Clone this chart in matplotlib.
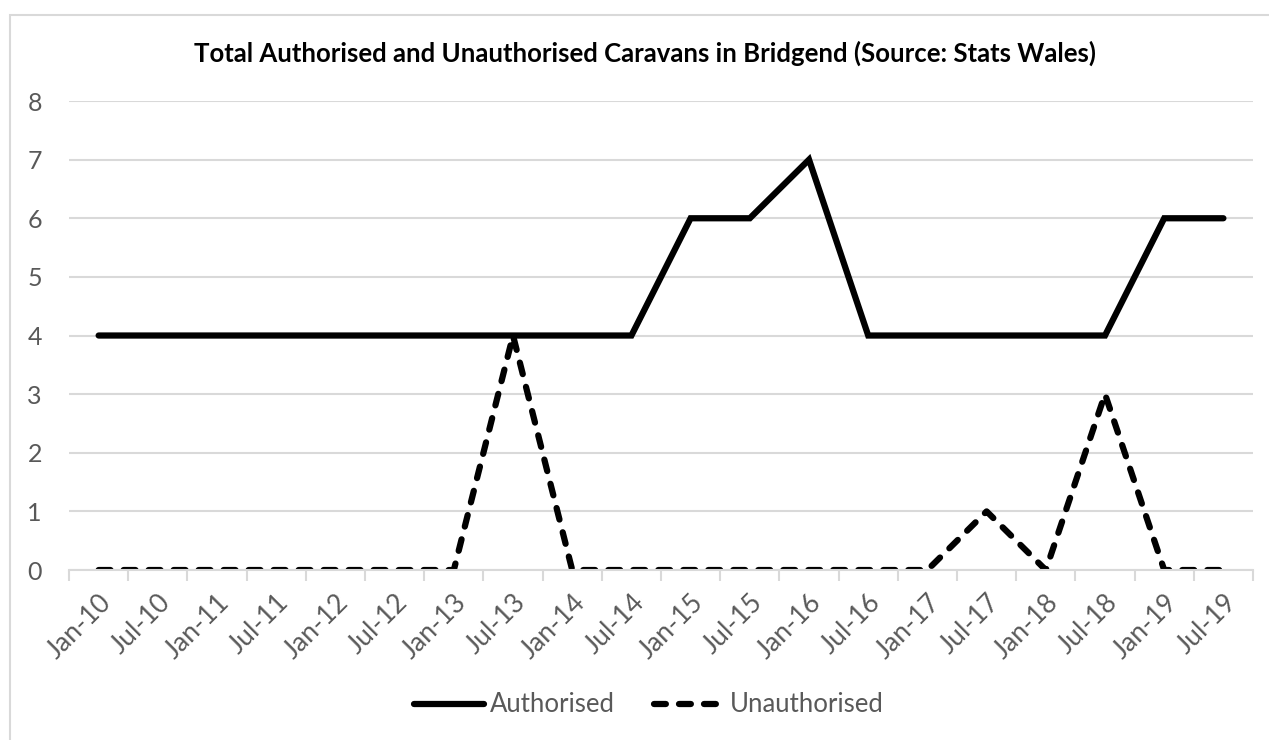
import matplotlib.pyplot as plt
from matplotlib.patches import Rectangle

# half-yearly categories
labels = ['Jan-10', 'Jul-10', 'Jan-11', 'Jul-11', 'Jan-12', 'Jul-12', 'Jan-13',
          'Jul-13', 'Jan-14', 'Jul-14', 'Jan-15', 'Jul-15', 'Jan-16', 'Jul-16',
          'Jan-17', 'Jul-17', 'Jan-18', 'Jul-18', 'Jan-19', 'Jul-19']
authorised = [4, 4, 4, 4, 4, 4, 4, 4, 4, 4, 6, 6, 7, 4, 4, 4, 4, 4, 6, 6]
unauthorised = [0, 0, 0, 0, 0, 0, 0, 4, 0, 0, 0, 0, 0, 0, 0, 1, 0, 3, 0, 0]

plt.rcParams['font.family'] = ['Lato', 'DejaVu Sans']
grey = '#595959'
light = '#d9d9d9'

fig = plt.figure(figsize=(12.69, 7.4), dpi=100)
ax = fig.add_axes([0.0544, 0.2297, 0.9330, 0.6338])

# chart area border, as in Excel
fig.patches.append(Rectangle((10 / 1269, -0.1), 1.2, 1 - 15 / 740 + 0.1,
                             transform=fig.transFigure, fill=False,
                             edgecolor=light, linewidth=1.5))

x = list(range(len(labels)))
ax.plot(x, authorised, color='black', linewidth=4.5, label='Authorised',
        solid_capstyle='round', solid_joinstyle='miter')
ax.plot(x, unauthorised, color='black', linewidth=4.5, label='Unauthorised',
        linestyle=(0, (1.9, 2.1)), dash_capstyle='round')

ax.set_xlim(-0.5, len(labels) - 0.5)
ax.set_ylim(0, 8)
ax.set_yticks(range(0, 9))
ax.set_xticks(x)
ax.set_xticklabels(labels, rotation=45, ha='right', rotation_mode='anchor')
ax.set_xticks([i - 0.5 for i in range(len(labels) + 1)], minor=True)

ax.grid(axis='y', color=light, linewidth=1.5)
ax.set_axisbelow(True)
for s in ['top', 'right', 'left']:
    ax.spines[s].set_visible(False)
ax.spines['bottom'].set_color(light)
ax.spines['bottom'].set_linewidth(1.5)

ax.tick_params(axis='x', which='major', length=0, pad=14, labelsize=19, labelcolor=grey)
ax.tick_params(axis='x', which='minor', length=8, width=1.5, color=light)
ax.tick_params(axis='y', length=0, pad=19.5, labelsize=18, labelcolor=grey)

fig.text(645 / 1269, 1 - 53 / 740,
         'Total Authorised and Unauthorised Caravans in Bridgend (Source: Stats Wales)',
         fontsize=18.5, fontweight='bold', ha='center', va='center')

fig.legend(loc='center', bbox_to_anchor=(649 / 1269, 1 - 705 / 740), ncol=2, frameon=False,
           fontsize=18.5, labelcolor=grey, handlelength=2.7, handletextpad=0.25,
           columnspacing=1.5)

fig.savefig('out.png', dpi=100)
